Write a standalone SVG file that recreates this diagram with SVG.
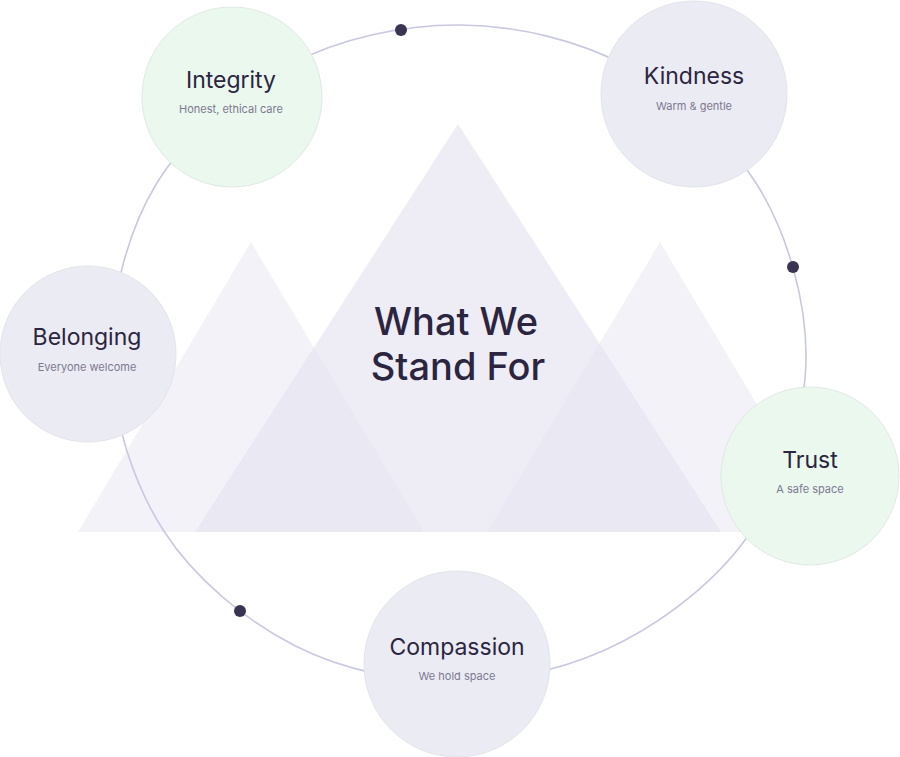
<svg xmlns="http://www.w3.org/2000/svg" width="900" height="757" viewBox="0 0 900 757">
<style>
.tri-side{fill:#f3f2f8}
.tri-center{fill:#eeedf6}
.tri-overlap{fill:#e9e8f3}
.ring{fill:none;stroke:#c8c8e0;stroke-width:1.6}
.dot{fill:#3a3352}
.node-green{fill:#eaf8ee;stroke:#e0e9e4;stroke-width:1}
.node-grey{fill:#ebebf3;stroke:#e3e3ec;stroke-width:1}
.title{font-family:Inter,"Liberation Sans",sans-serif;font-size:23px;fill:#2b2540;text-anchor:middle}
.sub{font-family:Inter,"Liberation Sans",sans-serif;font-size:11px;fill:#7d7891;text-anchor:middle}
.main{font-family:Inter,"Liberation Sans",sans-serif;font-size:38px;font-weight:500;fill:#2b2540;text-anchor:middle}
</style>
<rect width="900" height="757" fill="#ffffff"/>
<g id="mountains">
<polygon class="tri-side" points="251,242 78,532 424,532"/>
<polygon class="tri-side" points="660,242 487,532 833,532"/>
<polygon class="tri-center" points="458,124 195,532 721,532"/>
<polygon class="tri-overlap" points="313.9,347.5 424,532 195,532"/>
<polygon class="tri-overlap" points="599.5,343.5 721,532 487,532"/>
</g>
<g id="connectors">
<path class="ring" d="M460,25 C516.6,25.4 579.2,40.2 629,67.3 C678.8,94.4 729.3,138.7 758.8,187.5 C788.3,236.3 807,303.1 806,360 C805,416.9 783.3,482.1 752.7,529 C722.1,575.9 671.3,616 622.5,641.5 C573.7,667 514.6,681.3 460,682 C405.4,682.7 344.4,671 295,645.8 C245.6,620.6 194.5,578.6 163.8,531 C133.1,483.4 112.3,417.75 111,360 C109.7,302.25 126.25,233.7 156,184.5 C185.75,135.3 238.8,91.3 289.5,64.7 C340.2,38.1 403.4,24.6 460,25 Z"/>
<circle class="dot" cx="401" cy="30" r="6"/>
<circle class="dot" cx="793" cy="267" r="6"/>
<circle class="dot" cx="240" cy="611" r="6"/>
</g>
<g id="center-title">
<text class="main" x="456" y="335">What We</text>
<text class="main" x="458" y="380">Stand For</text>
</g>
<g id="node-integrity">
<circle class="node-green" cx="232" cy="97" r="90"/>
<text class="title" x="231" y="88">Integrity</text>
<text class="sub" x="231" y="113">Honest, ethical care</text>
</g>
<g id="node-kindness">
<circle class="node-grey" cx="694" cy="94" r="93"/>
<text class="title" x="694" y="84">Kindness</text>
<text class="sub" x="694" y="110">Warm &amp; gentle</text>
</g>
<g id="node-belonging">
<circle class="node-grey" cx="88" cy="354" r="88"/>
<text class="title" x="87" y="345">Belonging</text>
<text class="sub" x="87" y="371">Everyone welcome</text>
</g>
<g id="node-trust">
<circle class="node-green" cx="810" cy="476" r="89"/>
<text class="title" x="810" y="468">Trust</text>
<text class="sub" x="810" y="493">A safe space</text>
</g>
<g id="node-compassion">
<circle class="node-grey" cx="457" cy="664" r="93"/>
<text class="title" x="457" y="655">Compassion</text>
<text class="sub" x="457" y="680">We hold space</text>
</g>
</svg>
